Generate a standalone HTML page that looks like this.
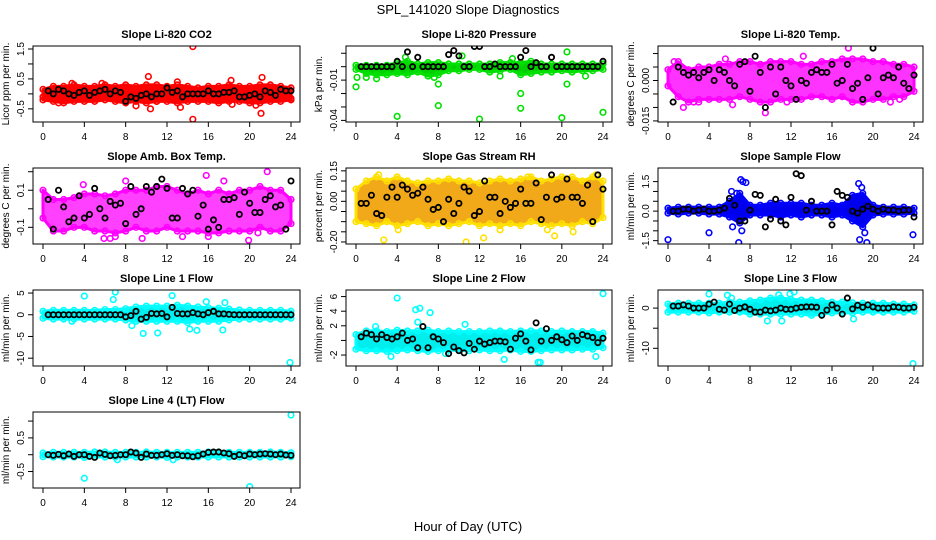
<!DOCTYPE html>
<html><head><meta charset="utf-8"><style>
html,body{margin:0;padding:0;background:#fff;}
svg{display:block;font-family:"Liberation Sans",sans-serif;}
</style></head><body>
<svg id="chart" width="936" height="540" viewBox="0 0 936 540">
<text x="468" y="14" text-anchor="middle" font-size="13">SPL_141020  Slope Diagnostics</text>
<text x="468" y="531" text-anchor="middle" font-size="13">Hour of Day (UTC)</text>
</svg>
<script>
const blackHours=[0.5,1,1.5,2,2.5,3,3.5,4,4.5,5,5.5,6,6.5,7,7.5,8,8.5,9,9.5,10,10.5,11,11.5,12,12.5,13,13.5,14,14.5,15,15.5,16,16.5,17,17.5,18,18.5,19,19.5,20,20.5,21,21.5,22,22.5,23,23.5,24];
const bandHours=[0,1,2,3,4,5,6,7,8,9,10,11,12,13,14,15,16,17,18,19,20,21,22,23,24];
const xTicks=[0,4,8,12,16,20,24];

const co2Black=[0.1,0,0.15,0.1,0,-0.05,0.05,0.1,-0.05,0.05,0.1,0.15,0,0.1,0.05,-0.25,-0.1,-0.15,-0.05,0,-0.1,0,0,0.2,0.05,0.1,-0.1,0,0,0,0,0.1,0,0,0.05,0.05,0.1,-0.1,-0.1,-0.05,0,-0.1,0.1,0.05,-0.05,0.15,0.1,0.1];
const co2Lo=[-0.2,-0.25,-0.3,-0.25,-0.25,-0.25,-0.2,-0.25,-0.3,-0.25,-0.3,-0.25,-0.25,-0.3,-0.25,-0.25,-0.25,-0.3,-0.25,-0.25,-0.3,-0.3,-0.25,-0.25,-0.2];
const co2Hi=[0.15,0.25,0.25,0.3,0.25,0.25,0.3,0.25,0.3,0.25,0.3,0.3,0.25,0.3,0.25,0.2,0.25,0.25,0.3,0.25,0.25,0.3,0.3,0.25,0.2];
const co2OutX=[14.5,14.5,21.1,10.2,21.2,13.3,9,10.4,1.5,18.2,18.3,20.6,2.8,5.7,11,13,0,24];
const co2OutY=[1.58,-0.85,-0.65,0.58,0.55,-0.45,-0.4,-0.5,-0.3,0.45,-0.35,-0.38,0.35,0.35,-0.25,0.4,-0.1,-0.15];

const presBlack=[0,0,0,0,0,0,0,0.004,0,0.011,0,0.007,0,0,0,0,0,0.009,0.012,0.008,0,0,0.015,0.015,0,0,0.002,0,0,0,0,0.007,0.012,0,0.003,0,0,0.007,0,0,0,0,0,0,0,0,0,0.004];
const presLo=[-0.002,-0.005,-0.006,-0.006,-0.005,-0.006,-0.004,-0.007,-0.006,-0.003,-0.003,-0.002,-0.002,-0.004,-0.003,-0.002,-0.006,-0.005,-0.004,-0.004,-0.003,-0.004,-0.003,-0.003,-0.002];
const presHi=[0.001,0.001,0.001,0.001,0.003,0.004,0.002,0.003,0.003,0.002,0.002,0.002,0.002,0.002,0.003,0.003,0.003,0.004,0.002,0.002,0.002,0.002,0.002,0.002,0.002];
const presOutX=[0,4,8,8,12,16,16,20,20.5,24,20.5,4.8,10.3,0.1,7.6,1,2,15.2,14,22.3];
const presOutY=[-0.015,-0.037,-0.013,-0.029,-0.039,-0.02,-0.031,-0.038,-0.013,-0.034,0.011,0.007,0.008,-0.008,-0.008,-0.008,-0.009,0.006,-0.007,-0.007];

const tempBlack=[-0.008,0.005,0.003,0.002,0.003,0.001,0.003,0.004,0,0.004,0.003,0,-0.002,0.006,0.007,-0.004,0.009,0.003,-0.01,0.005,-0.005,0.005,0,-0.002,-0.007,0,-0.001,0.003,0.004,0.003,0.003,0.006,-0.001,0,0.006,-0.003,-0.001,-0.007,0.001,0.012,-0.005,0.001,0.002,0.001,0.005,-0.001,-0.003,0.002];
const tempLo=[-0.002,-0.006,-0.008,-0.007,-0.007,-0.007,-0.007,-0.006,-0.007,-0.008,-0.008,-0.007,-0.007,-0.007,-0.006,-0.006,-0.007,-0.006,-0.008,-0.008,-0.007,-0.007,-0.006,-0.006,-0.004];
const tempHi=[0.004,0.007,0.004,0.005,0.005,0.006,0.006,0.007,0.007,0.006,0.007,0.007,0.007,0.006,0.006,0.007,0.007,0.008,0.008,0.008,0.007,0.007,0.006,0.006,0.005];
const tempOutX=[1.5,6.3,9.5,17.6,13.2,3,0.6,5.6,11.6,21.7,22.6,2.5];
const tempOutY=[-0.01,-0.009,-0.012,0.012,0.009,-0.008,0.007,0.008,-0.008,-0.008,-0.007,-0.008];

const ambBlack=[0.05,-0.11,0.1,0.01,-0.07,-0.05,0.07,-0.05,-0.03,0.11,0,-0.05,0.04,0.02,0.03,-0.08,0.12,-0.03,0,0.12,0.09,0.12,0.16,0.11,-0.05,-0.05,0.11,0.08,0.1,-0.04,0.02,-0.11,-0.06,-0.1,0.05,0.05,0.06,-0.03,0.09,0.03,-0.02,-0.02,0.05,0.07,0.01,0.02,-0.11,0.15];
const ambLo=[-0.05,-0.12,-0.12,-0.1,-0.1,-0.12,-0.12,-0.13,-0.12,-0.1,-0.12,-0.12,-0.1,-0.12,-0.12,-0.12,-0.13,-0.13,-0.12,-0.12,-0.12,-0.1,-0.12,-0.12,-0.08];
const ambHi=[0.1,0.05,0.05,0.06,0.08,0.08,0.07,0.08,0.1,0.1,0.1,0.12,0.12,0.1,0.08,0.1,0.08,0.1,0.08,0.1,0.1,0.12,0.1,0.1,0.05];
const ambOutX=[6.5,7,8,13.5,15.8,16,17.5,19.9,21.7,20.8,9.6,3.9,5.9];
const ambOutY=[-0.16,-0.15,0.15,-0.15,0.18,-0.15,0.15,-0.17,0.2,-0.13,-0.16,0.13,-0.16];

const rhBlack=[-0.01,-0.01,0.03,-0.06,-0.07,0.02,0.07,0.02,0.08,0.06,0.03,0.04,0.07,0.01,-0.04,-0.03,-0.1,0.01,-0.06,-0.01,0.07,0.05,-0.07,-0.05,0.1,0.02,0.02,-0.06,0,-0.03,-0.01,0.06,-0.01,-0.01,0.09,-0.09,0.02,0.13,0.01,0.02,0.11,0.02,0.02,-0.01,0.08,-0.1,0.13,0.06];
const rhLo=[-0.1,-0.11,-0.12,-0.1,-0.12,-0.11,-0.1,-0.12,-0.11,-0.12,-0.11,-0.1,-0.12,-0.11,-0.12,-0.11,-0.12,-0.1,-0.11,-0.12,-0.11,-0.12,-0.1,-0.11,-0.08];
const rhHi=[0.06,0.1,0.12,0.1,0.12,0.1,0.09,0.1,0.1,0.11,0.1,0.1,0.09,0.1,0.11,0.1,0.11,0.12,0.1,0.11,0.12,0.12,0.1,0.12,0.1];
const rhOutX=[2.7,10.7,12.4,19.3,21.1,4.1,14,18.6,2.2,16.7,23.3];
const rhOutY=[-0.19,-0.2,-0.18,-0.17,-0.15,-0.14,-0.14,-0.14,0.13,0.12,0.13];

const flowBlack=[0,0,0.1,0.1,0,0.05,0.1,0,0,0.05,0.15,0.65,0.3,-0.5,-0.5,0.05,0.85,0.8,-0.8,-0.4,0.6,-0.5,-0.7,0.7,1.9,1.8,0.05,0.5,0,0,0,-0.7,1.0,0.8,0.7,0,-0.1,0.1,0.25,0.1,0,0.1,0.05,0.05,0,0.05,0.05,-0.3];
const flowLo=[-0.1,-0.15,-0.1,-0.1,-0.15,-0.15,-0.3,-0.6,-0.2,-0.2,-0.2,-0.3,-0.2,-0.3,-0.2,-0.2,-0.3,-0.2,-0.5,-0.8,-0.2,-0.15,-0.15,-0.15,-0.1];
const flowHi=[0.15,0.2,0.2,0.2,0.2,0.2,0.5,0.9,0.3,0.3,0.4,0.4,0.4,0.4,0.3,0.3,0.4,0.3,0.8,0.9,0.3,0.2,0.2,0.2,0.15];
const flowOutX=[0,4,6.9,7.1,7.3,7.6,6.2,6.3,18.6,18.7,19.4,19.2,23.9,7.2,18.9,6.7];
const flowOutY=[-1.45,-1.1,-1.6,1.6,1.5,1.45,1,-0.8,1.4,-1.45,-1.6,-1.1,-1.2,-1,1.2,0.9];

const l1Black=[0,0,0,0,0,0,0,0,0,0,0,0,0,0,0,-0.5,-0.2,0.8,-1,-0.6,0.3,0.2,0.3,-0.5,1.7,0.3,0.2,0.2,0.5,0.2,0,0.5,0.8,0.2,0.2,0.1,0,0,0,0,0,0,0,0,0,0,0,0];
const l1Lo=[-0.8,-1,-1,-1,-1,-1,-1,-1,-1.2,-1.5,-1.5,-1.5,-1.5,-1.5,-1.8,-1.5,-1.5,-1.5,-1.2,-1,-1,-1,-1,-1,-0.8];
const l1Hi=[0.8,1,1,1,1,1,1.2,1.2,1.4,1.8,2,2,2,2.2,2,1.8,1.6,1.5,1.3,1.1,1,1,1,1,0.8];
const l1OutX=[4,7,6.8,9.7,11.1,12.5,8.6,14.2,14.9,17.4,17.6,23.9,2.8,15.8];
const l1OutY=[4.3,5.2,3.5,-4.3,-4.2,4.4,-2.5,-3.3,-3.6,-3.5,2.8,-11,-1.5,3];

const l2Black=[0.5,1,0.8,0.2,0.8,0.4,0.2,0.5,1,0,0.2,-1,1.9,-1,0.5,0.2,-0.3,-1.8,-0.9,-1.4,-1.7,-0.4,-1.2,-0.1,-0.5,-0.3,-0.1,-0.1,-0.2,-1.2,0.3,0.9,-0.1,-1.3,2.4,-0.1,1.6,0,0.5,0.1,-0.3,0.6,0,0.8,0.6,0.4,-0.3,0.3];
const l2Lo=[-1.2,-1.4,-1.4,-1.5,-1.4,-1.3,-1.4,-1.5,-1.4,-1.3,-1.4,-1.4,-1.3,-1.4,-1.4,-1.3,-1.5,-1.5,-1.4,-1.3,-1.3,-1.3,-1.2,-1.2,-1];
const l2Hi=[0.8,1.3,1.3,1.2,1.4,1.3,1.3,1.4,1.2,1.3,1.2,1.2,1.2,1.3,1.3,1.2,1.3,1.3,1.3,1.2,1.3,1.2,1.2,1.2,1];
const l2OutX=[4,5.8,6.2,7.2,24,6,3.4,14.4,17.7,17.9,23.3,1.9,10.6,8.7];
const l2OutY=[5.8,4.2,4.4,3.8,6.4,2.5,-2.2,-2.6,-3,-3,-2.2,1.9,2.2,-1.8];

const l3Black=[0.5,0.5,0.8,0.5,0,0,0,1,1.5,-0.3,-0.5,1,-0.6,0,0.3,-0.3,-1,-1,-0.5,-0.7,-0.5,0,-0.3,-0.3,0,0.2,0.3,0.3,0.2,-1.8,-0.5,0.8,0,-1.5,2.5,-0.2,0.7,0.2,0.8,0.3,0,0,0,0.3,0.2,0,0,0.2];
const l3Lo=[-1,-1,-1,-1,-1.2,-1,-1,-1,-1.5,-1.5,-1.5,-1.5,-1.5,-1.5,-1.8,-1.5,-1.2,-1.2,-1.2,-1,-1,-1,-1,-1,-0.8];
const l3Hi=[1,1.2,1.2,1.2,1.2,1.2,1.5,1.5,1.8,2,2.5,2.5,2.2,2,2,1.8,1.5,1.5,1.3,1.2,1.2,1.2,1,1,0.8];
const l3OutX=[4,5.8,9.7,11.1,12.3,11.9,18.1,23.9,6.2,10.8];
const l3OutY=[3.5,3.2,-3.2,-3.2,4,3.5,-2.7,-13.8,2.5,3.3];

const l4Black=[0,-0.02,0.01,-0.03,0.02,-0.05,0,0,-0.05,-0.08,0.05,0.01,-0.03,-0.02,0,0,0.08,0.05,-0.08,0.02,-0.02,-0.02,0,0.03,-0.02,0,-0.03,-0.03,-0.06,-0.03,0.02,0.07,0.08,0.08,0.05,0.03,-0.05,0,-0.03,0.02,0,0.02,0.03,0.02,0,0.02,-0.01,-0.02];
const l4Lo=[-0.06,-0.07,-0.07,-0.07,-0.08,-0.07,-0.07,-0.07,-0.07,-0.07,-0.07,-0.07,-0.08,-0.07,-0.07,-0.07,-0.07,-0.07,-0.07,-0.07,-0.07,-0.07,-0.07,-0.07,-0.06];
const l4Hi=[0.05,0.07,0.07,0.07,0.07,0.08,0.08,0.07,0.07,0.07,0.08,0.07,0.07,0.07,0.07,0.07,0.08,0.08,0.07,0.07,0.07,0.07,0.08,0.07,0.06];
const l4OutX=[4,20,24,7.2,12.6];
const l4OutY=[-0.7,-0.95,1.18,-0.15,-0.15];

const titles=["Slope Li-820 CO2","Slope Li-820 Pressure","Slope Li-820 Temp.","Slope Amb. Box Temp.","Slope Gas Stream RH","Slope Sample Flow","Slope Line 1 Flow","Slope Line 2 Flow","Slope Line 3 Flow","Slope Line 4 (LT) Flow"];
const yLabels=["Licor ppm per min.","kPa per min.","degrees C per min.","degrees C per min.","percent per min.","ml/min per min.","ml/min per min.","ml/min per min.","ml/min per min.","ml/min per min."];

const panels=[
 {name:'co2',col:0,row:0,ymin:-0.94,ymax:1.6,ticks:[-0.5,0,0.5,1,1.5],labels:["-0.5","","0.5","","1.5"],color:'#ff0000',fill:'#ff0000',op:1,black:co2Black,lo:co2Lo,hi:co2Hi,ox:co2OutX,oy:co2OutY},
 {name:'pressure',col:1,row:0,ymin:-0.0412,ymax:0.0154,ticks:[-0.04,-0.03,-0.02,-0.01,0,0.01],labels:["-0.04","","","-0.01","",""],color:'#00e000',fill:'#00d000',op:1,black:presBlack,lo:presLo,hi:presHi,ox:presOutX,oy:presOutY},
 {name:'li820-temp',col:2,row:0,ymin:-0.0154,ymax:0.0128,ticks:[-0.015,-0.01,-0.005,0,0.005,0.01],labels:["-0.015","","","0.000","",""],color:'#ff00ff',fill:'#ff00ff',op:0.8,black:tempBlack,lo:tempLo,hi:tempHi,ox:tempOutX,oy:tempOutY},
 {name:'amb-temp',col:0,row:1,ymin:-0.19,ymax:0.22,ticks:[-0.1,0,0.1,0.2],labels:["-0.1","","0.1",""],color:'#ff00ff',fill:'#ff00ff',op:0.75,black:ambBlack,lo:ambLo,hi:ambHi,ox:ambOutX,oy:ambOutY},
 {name:'rh',col:1,row:1,ymin:-0.21,ymax:0.164,ticks:[-0.2,-0.15,-0.1,-0.05,0,0.05,0.1,0.15],labels:["-0.20","","","","0.00","","","0.15"],color:'#ffe000',fill:'#f0a000',op:0.9,black:rhBlack,lo:rhLo,hi:rhHi,ox:rhOutX,oy:rhOutY},
 {name:'sample-flow',col:2,row:1,ymin:-1.67,ymax:2.19,ticks:[-1.5,-1,-0.5,0,0.5,1,1.5],labels:["-1.5","","","0.0","","","1.5"],color:'#0000ff',fill:'#0000ee',op:1,black:flowBlack,lo:flowLo,hi:flowHi,ox:flowOutX,oy:flowOutY},
 {name:'line1-flow',col:0,row:2,ymin:-11.8,ymax:5.7,ticks:[-10,-5,0,5],labels:["-10","-5","0","5"],color:'#00ffff',fill:'#00eeee',op:1,black:l1Black,lo:l1Lo,hi:l1Hi,ox:l1OutX,oy:l1OutY},
 {name:'line2-flow',col:1,row:2,ymin:-3.5,ymax:6.9,ticks:[-2,0,2,4,6],labels:["-2","","2","4","6"],color:'#00ffff',fill:'#00eeee',op:1,black:l2Black,lo:l2Lo,hi:l2Hi,ox:l2OutX,oy:l2OutY},
 {name:'line3-flow',col:2,row:2,ymin:-14.4,ymax:4.5,ticks:[-10,-5,0],labels:["-10","","0"],color:'#00ffff',fill:'#00eeee',op:1,black:l3Black,lo:l3Lo,hi:l3Hi,ox:l3OutX,oy:l3OutY},
 {name:'line4-flow',col:0,row:3,ymin:-0.99,ymax:1.27,ticks:[-0.5,0,0.5,1],labels:["-0.5","","0.5",""],color:'#00ffff',fill:'#00eeee',op:1,black:l4Black,lo:l4Lo,hi:l4Hi,ox:l4OutX,oy:l4OutY}
];
const colLeft=[33,346,658], colRight=[300,612,923];
const rowTop=[46,168,290,412], boxH=76;
const NS='http://www.w3.org/2000/svg';
const svg=document.getElementById('chart');
function mk(tag,attrs,parent){const e=document.createElementNS(NS,tag);for(const k in attrs)e.setAttribute(k,attrs[k]);(parent||svg).appendChild(e);return e;}

panels.forEach((p,i)=>{
  const L=colLeft[p.col],R=colRight[p.col],T=rowTop[p.row],B=T+boxH;
  const x0=L+10,x1=R-9;
  const sx=h=>x0+(x1-x0)*h/24;
  const sy=v=>B-(v-p.ymin)/(p.ymax-p.ymin)*(B-T);
  const g=mk('g',{});
  
  
  const clipId='clip'+i;
  const cp=mk('clipPath',{id:clipId},g);mk('rect',{x:L,y:T,width:R-L,height:boxH},cp);
  const pg=mk('g',{'clip-path':'url(#'+clipId+')'},g);
  let pts=bandHours.map((h,k)=>sx(h)+','+sy(p.hi[k]));
  pts=pts.concat(bandHours.slice().reverse().map((h,k)=>sx(h)+','+sy(p.lo[bandHours.length-1-k])));
  const band=mk('polygon',{points:pts.join(' '),fill:p.fill,'fill-opacity':p.op,stroke:p.color,'stroke-width':3,'stroke-linejoin':'round'},pg);
  
  
  bandHours.forEach((h,k)=>{
    [p.hi[k],p.lo[k]].forEach(v=>{
      const c=mk('circle',{cx:sx(h),cy:sy(v),r:2.8,fill:'none',stroke:p.color,'stroke-width':1.6},pg);
      
      
    });
  });
  p.ox.forEach((h,k)=>{
    const c=mk('circle',{cx:sx(h),cy:sy(p.oy[k]),r:2.8,fill:'none',stroke:p.color,'stroke-width':1.6},pg);
    
    
  });
  p.black.forEach((v,k)=>{
    const c=mk('circle',{cx:sx(blackHours[k]),cy:sy(v),r:2.6,fill:'none',stroke:'#000','stroke-width':1.8},pg);
    
    
  });
  const fr=mk('rect',{x:L,y:T,width:R-L,height:boxH,fill:'none',stroke:'#000','stroke-width':1},g);
  
  
  xTicks.forEach(t=>{
    mk('line',{x1:sx(t),x2:sx(t),y1:B,y2:B+5,stroke:'#000'},g);
    const tx=mk('text',{x:sx(t),y:B+18,'text-anchor':'middle','font-size':10},g);
    tx.textContent=t;
    
    
  });
  p.ticks.forEach((t,k)=>{
    const y=sy(t);
    mk('line',{x1:L-5,x2:L,y1:y,y2:y,stroke:'#000'},g);
    if(p.labels[k]){
      const tx=mk('text',{x:L-9,y:y,'text-anchor':'middle','font-size':10,transform:'rotate(-90 '+(L-9)+' '+y+')'},g);
      tx.textContent=p.labels[k];
      
      
    }
  });
  const yl=mk('text',{x:L-24,y:T+boxH/2,'text-anchor':'middle','font-size':10,transform:'rotate(-90 '+(L-24)+' '+(T+boxH/2)+')'},g);
  yl.textContent=yLabels[i];
  
  
  const tt=mk('text',{x:(L+R)/2,y:T-8,'text-anchor':'middle','font-size':11,'font-weight':'bold'},g);
  tt.textContent=titles[i];
  
  
});
</script>
</body></html>
